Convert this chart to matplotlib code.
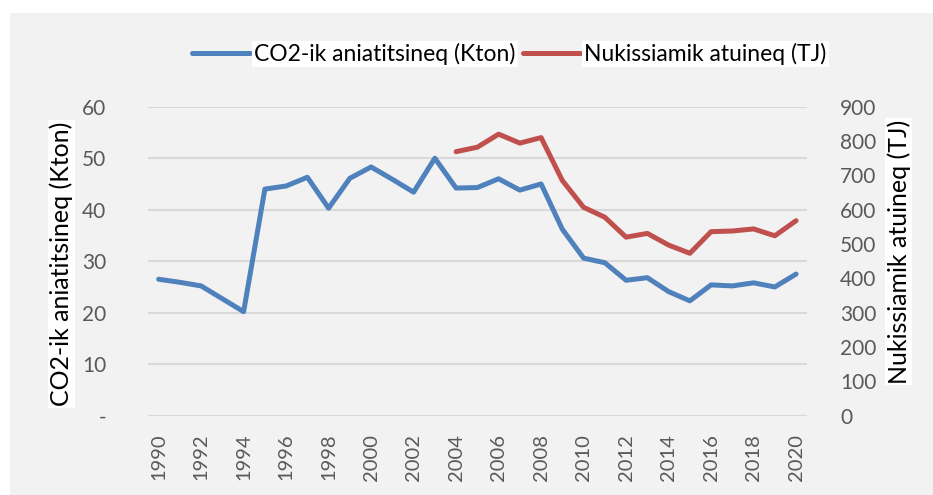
import numpy as np
import matplotlib
matplotlib.use("Agg")
import matplotlib.pyplot as plt
from matplotlib.patches import Rectangle

years = list(range(1990, 2021))
co2 = [26.5, 25.9, 25.2, 22.7, 20.2, 44.0, 44.6, 46.3, 40.3, 46.1, 48.3,
       45.9, 43.4, 50.0, 44.2, 44.3, 46.0, 43.8, 45.0, 36.2, 30.6, 29.7,
       26.3, 26.8, 24.1, 22.3, 25.4, 25.2, 25.8, 25.0, 27.5]
energy_years = list(range(2004, 2021))
energy = [769, 782, 820, 794, 810, 685, 607, 578, 520, 531, 497, 473,
          536, 538, 544, 524, 568]

left_ticks = [0, 10, 20, 30, 40, 50, 60]
left_labels = ["-", "10", "20", "30", "40", "50", "60"]
right_ticks = list(range(0, 1000, 100))
x_labels = [str(y) for y in years[::2]]

label_co2 = "CO2-ik aniatitsineq (Kton)"
label_en = "Nukissiamik atuineq (TJ)"

BLUE = "#4F81BD"
RED = "#C0504D"
GRID = "#D9D9D9"
TICKC = "#595959"
FONT = ["Lato", "DejaVu Sans"]

W, H = 933, 495
fig = plt.figure(figsize=(W / 100, H / 100), dpi=100, facecolor="white")
bg = Rectangle((10 / W, 0), 1 - 10 / W, 1 - 13 / H,
               transform=fig.transFigure, facecolor="#F2F2F2",
               edgecolor="none", zorder=-10)
fig.patches.append(bg)

ax = fig.add_axes([148 / W, 1 - 415.7 / H, (806.7 - 148) / W, (415.7 - 106.7) / H])
ax.set_facecolor("none")
ax2 = ax.twinx()
ax2.set_facecolor("none")

xi = np.arange(len(years))
ax.plot(xi, co2, color=BLUE, lw=3.6, solid_capstyle="round", solid_joinstyle="round",
        label=label_co2, zorder=3)
ei = np.array([years.index(y) for y in energy_years])
ax2.plot(ei, energy, color=RED, lw=3.6, solid_capstyle="round", solid_joinstyle="round",
         label=label_en, zorder=3)

ax.set_xlim(-0.5, len(years) - 0.5)
ax.set_ylim(0, 60)
ax2.set_ylim(0, 900)

ax.set_yticks(left_ticks)
ax.set_yticklabels(left_labels, fontsize=15, color=TICKC, family=FONT)
ax2.set_yticks(right_ticks)
ax2.set_yticklabels([str(v) for v in right_ticks], fontsize=15, color=TICKC, family=FONT)
ax.set_xticks(xi[::2])
ax.set_xticklabels(x_labels, rotation=90, fontsize=14.5, color=TICKC, family=FONT)

ax.tick_params(axis="y", length=0, pad=30)
ax2.tick_params(axis="y", length=0, pad=24)
ax.tick_params(axis="x", length=0, pad=13)

ax.grid(axis="y", color=GRID, lw=1.5)
ax.set_axisbelow(True)
for a in (ax, ax2):
    for s in a.spines.values():
        s.set_visible(False)

bb = dict(facecolor="white", edgecolor="none", pad=1)
ax.set_ylabel(label_co2, fontsize=18, family=FONT, color="black", bbox=bb)
ax2.set_ylabel(label_en, fontsize=18, family=FONT, color="black", bbox=bb)
ax.yaxis.set_label_coords(-(148 - 73) / (806.7 - 148), (415.7 - 264) / (415.7 - 106.7))
ax2.yaxis.set_label_coords((887 - 148) / (806.7 - 148), (415.7 - 251.5) / (415.7 - 106.7))

h1, l1 = ax.get_legend_handles_labels()
h2, l2 = ax2.get_legend_handles_labels()
leg = fig.legend(h1 + h2, l1 + l2, loc="center", bbox_to_anchor=(509.5 / W, 1 - 54 / H),
                 ncol=2, frameon=False, handlelength=2.5,
                 handletextpad=0.2, columnspacing=0.3, prop={"family": FONT, "size": 16.5})
for t in leg.get_texts():
    t.set_bbox(dict(facecolor="white", edgecolor="none", pad=1.5))

fig.savefig("out.png", dpi=100, facecolor="white")
